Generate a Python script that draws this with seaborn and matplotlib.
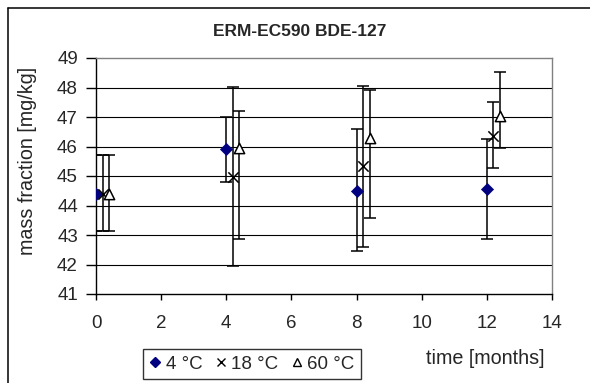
import matplotlib
matplotlib.use("Agg")
import matplotlib.pyplot as plt
import seaborn as sns
import pandas as pd
import numpy as np
from matplotlib.lines import Line2D

sns.set_style("white")
plt.rcParams['font.family'] = ['Liberation Sans', 'DejaVu Sans']

# Data
series = ["4 °C", "18 °C", "60 °C"]
x_4 = [0.0, 4.0, 8.0, 12.0]
y_4 = [44.40, 45.90, 44.50, 44.55]
lo_4 = [43.15, 44.80, 42.45, 42.85]
hi_4 = [45.70, 47.00, 46.60, 46.25]

x_18 = [0.2, 4.2, 8.2, 12.2]
y_18 = [44.40, 44.95, 45.33, 46.36]
lo_18 = [43.15, 41.95, 42.58, 45.28]
hi_18 = [45.70, 48.02, 48.06, 47.50]

x_60 = [0.4, 4.4, 8.4, 12.4]
y_60 = [44.40, 45.95, 46.30, 47.03]
lo_60 = [43.15, 42.88, 43.57, 45.96]
hi_60 = [45.70, 47.19, 47.90, 48.52]

x_ticks = [0, 2, 4, 6, 8, 10, 12, 14]
y_ticks = [41, 42, 43, 44, 45, 46, 47, 48, 49]

df = pd.concat([
    pd.DataFrame({"x": x_4, "y": y_4, "lo": lo_4, "hi": hi_4, "s": series[0]}),
    pd.DataFrame({"x": x_18, "y": y_18, "lo": lo_18, "hi": hi_18, "s": series[1]}),
    pd.DataFrame({"x": x_60, "y": y_60, "lo": lo_60, "hi": hi_60, "s": series[2]}),
], ignore_index=True)

fig = plt.figure(figsize=(5.9, 3.83), dpi=100)
ax = fig.add_axes([96/590, 1-294/383, (552-96)/590, (294-58)/383])

# gridlines
for yv in y_ticks[1:-1]:
    ax.axhline(yv, color="black", lw=0.8, zorder=0)

# error bars
for s in series:
    d = df[df.s == s]
    ax.errorbar(d.x, d.y, yerr=[d.y - d.lo, d.hi - d.y], fmt="none",
                ecolor="black", elinewidth=1.1, capsize=4.5, capthick=1.1, zorder=2)

for s in series:
    d = df[df.s == s]
    if s == "4 °C":
        sns.scatterplot(data=d, x="x", y="y", marker="D", s=38, color="#000080",
                        edgecolor="#000080", linewidth=0.5, ax=ax, zorder=3, legend=False)
    elif s == "18 °C":
        sns.scatterplot(data=d, x="x", y="y", marker="x", s=55, color="black",
                        linewidth=1.1, ax=ax, zorder=3, legend=False)
    else:
        ax.scatter(d.x, d.y, marker="^", s=55, facecolors="white",
                   edgecolors="black", linewidths=1.1, zorder=3)

ax.set_xlim(0, 14)
ax.set_ylim(41, 49)
ax.set_xticks(x_ticks)
ax.set_yticks(y_ticks)
ax.set_xlabel("")
ax.set_ylabel("")
ax.tick_params(axis="both", direction="out", width=1, color="black",
               labelsize=13.5, left=True, bottom=True)
ax.tick_params(axis="y", length=7, pad=6)
ax.tick_params(axis="x", length=4.5, pad=10.5)

for sp in ["left", "bottom"]:
    ax.spines[sp].set_color("black")
    ax.spines[sp].set_linewidth(1)
for sp in ["top", "right"]:
    ax.spines[sp].set_color("#808080")
    ax.spines[sp].set_linewidth(1)

fig.text(300/590, 1-32/383, "ERM-EC590 BDE-127", ha="center", va="center",
         fontsize=12.5, fontweight="bold")
fig.text(28/590, 1-161/383, "mass fraction [mg/kg]", ha="center", va="center",
         rotation=90, fontsize=14.2)
fig.text(485/590, 1-358/383, "time [months]", ha="center", va="center", fontsize=14.2)

handles = [
    Line2D([], [], marker="D", ls="none", color="#000080", markersize=5),
    Line2D([], [], marker="x", ls="none", color="black", markersize=6, markeredgewidth=1),
    Line2D([], [], marker="^", ls="none", markerfacecolor="white", markeredgecolor="black",
           markersize=6, markeredgewidth=1),
]
leg = fig.legend(handles, series, loc="upper left", bbox_to_anchor=(143/590, 1-349/383),
                 ncol=3, frameon=True, fontsize=13.5, handlelength=0.6, handletextpad=0.25,
                 columnspacing=0.7, borderpad=0.35, fancybox=False, borderaxespad=0)
leg.get_frame().set_edgecolor("black")
leg.get_frame().set_linewidth(1)

# outer chart frame (left and top edges visible, rest cropped)
fx, fy = 7.5/590, 1-7.5/383
fig.add_artist(Line2D([fx, fx], [0, fy], transform=fig.transFigure, color="black", lw=1.1))
fig.add_artist(Line2D([fx, 1], [fy, fy], transform=fig.transFigure, color="black", lw=1.1))

fig.savefig("out.png", dpi=100)
